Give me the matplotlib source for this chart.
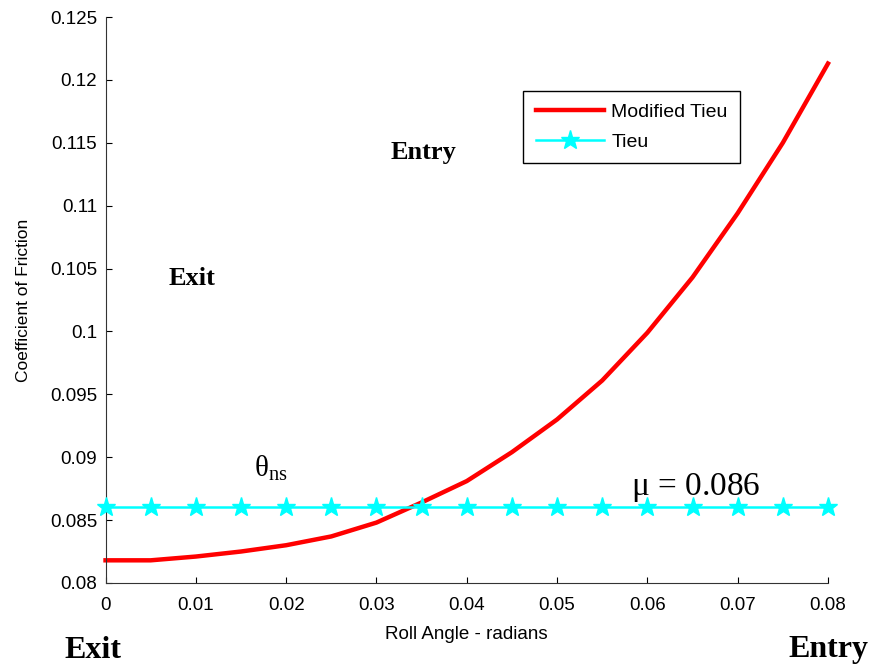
import numpy as np
import matplotlib
matplotlib.use('Agg')
import matplotlib.pyplot as plt

# roll angle (radians) and friction coefficients
roll_angle = [0.0, 0.005, 0.01, 0.015, 0.02, 0.025, 0.03, 0.035, 0.04,
              0.045, 0.05, 0.055, 0.06, 0.065, 0.07, 0.075, 0.08]
mod_tieu = [0.0818, 0.0818, 0.0821, 0.0825, 0.0830, 0.0837, 0.0848, 0.0864, 0.0881,
            0.0904, 0.0930, 0.0961, 0.0999, 0.1043, 0.1094, 0.1150, 0.1213]
tieu = [0.086] * len(roll_angle)

xticks = [0, 0.01, 0.02, 0.03, 0.04, 0.05, 0.06, 0.07, 0.08]
xticklabels = ['0', '0.01', '0.02', '0.03', '0.04', '0.05', '0.06', '0.07', '0.08']
yticks = [0.08, 0.085, 0.09, 0.095, 0.1, 0.105, 0.11, 0.115, 0.12, 0.125]
yticklabels = ['0.08', '0.085', '0.09', '0.095', '0.1', '0.105', '0.11', '0.115', '0.12', '0.125']

plt.rcParams['font.family'] = ['Liberation Sans', 'DejaVu Sans']

fig = plt.figure(figsize=(8.7, 6.67), dpi=100)
ax = fig.add_axes([0.1213, 0.126, 0.8304, 0.8485])

ax.plot(roll_angle, mod_tieu, color='red', lw=3.2, label='Modified Tieu', clip_on=False)
ax.plot(roll_angle, tieu, color='cyan', lw=1.8, marker='*', ms=14, label='Tieu',
        clip_on=False, zorder=3)

ax.set_xlim(0, 0.08)
ax.set_ylim(0.08, 0.125)
ax.set_xticks(xticks)
ax.set_xticklabels(xticklabels)
ax.set_yticks(yticks)
ax.set_yticklabels(yticklabels)
ax.tick_params(direction='in', length=4, labelsize=13.5)
ax.tick_params(axis='x', pad=10)
ax.tick_params(axis='y', pad=6)
for s in ['top', 'right']:
    ax.spines[s].set_visible(False)
ax.spines['left'].set_color('#333333')
ax.spines['bottom'].set_color('#333333')

ax.set_xlabel('Roll Angle - radians', fontsize=13.5, labelpad=9)
ax.set_ylabel('Coefficient of Friction', fontsize=12.5, labelpad=14)

leg = ax.legend(loc='upper left', bbox_to_anchor=(523 / 870, 1 - 91 / 667),
                bbox_transform=fig.transFigure, fontsize=14, fancybox=False,
                edgecolor='black', framealpha=1, handlelength=3.5,
                handletextpad=0.4, borderpad=0.65, labelspacing=0.6,
                borderaxespad=0)
leg.get_frame().set_linewidth(1.0)

serif = ['Liberation Serif', 'DejaVu Serif']
ax.text(0.0352, 0.1142, 'Entry', fontsize=19, fontweight='bold', family=serif,
        ha='center', va='center')
ax.text(0.0096, 0.1042, 'Exit', fontsize=19, fontweight='bold', family=serif,
        ha='center', va='center')
ax.text(0.0183, 0.0891, r'$\mathregular{\theta_{ns}}$', fontsize=21, family=serif,
        ha='center', va='center')
ax.text(0.0653, 0.0876, r'$\mathregular{\mu}$ = 0.086', fontsize=24, family=serif,
        ha='center', va='center')

fig.text(93 / 870, 1 - 650 / 667, 'Exit', fontsize=23, fontweight='bold',
         family=serif, ha='center', va='center')
fig.text(828 / 870, 1 - 650 / 667, 'Entry', fontsize=23, fontweight='bold',
         family=serif, ha='center', va='center')

fig.savefig('out.png', dpi=100)
